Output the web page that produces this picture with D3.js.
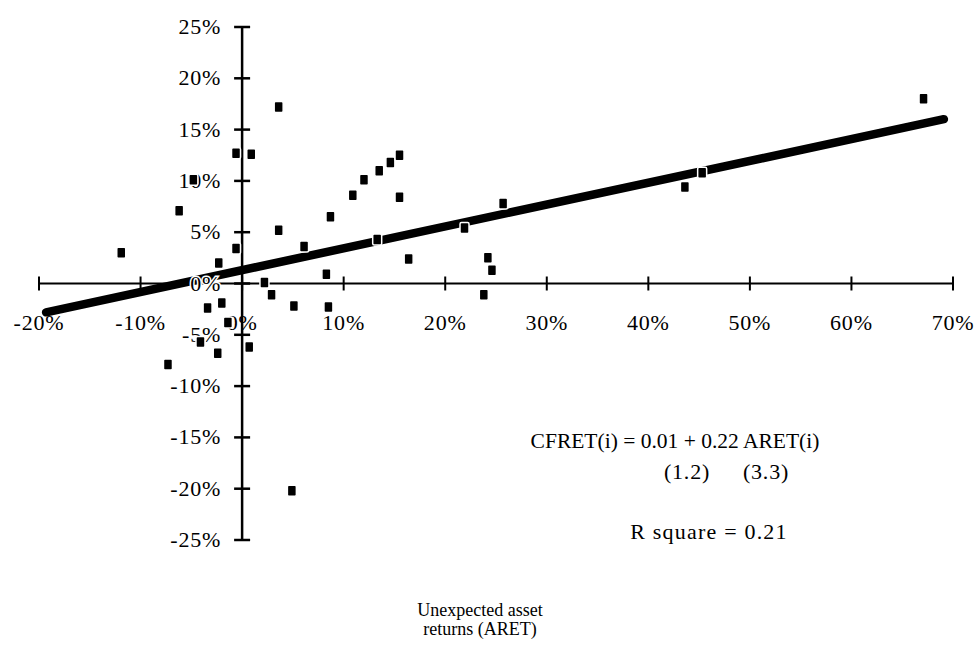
<!DOCTYPE html>
<html>
<head>
<meta charset="utf-8">
<script src="https://cdn.jsdelivr.net/npm/d3@7"></script>
<style>
  html, body { margin: 0; padding: 0; background: #fff; }
  svg { display: block; }
  text { font-family: "Liberation Serif", "DejaVu Serif", serif; fill: #000; }
</style>
</head>
<body>
<svg id="chart" width="978" height="650"></svg>
<script>
// Data (percent)
const aret = [-11.9, -6.2, -4.8, -0.6, 0.9, 3.6, 3.6, -0.6, -2.3, 2.2, 2.9, 5.1, 6.1, 8.3, 8.5, 8.7,
  10.9, 12.0, 13.5, 14.6, 15.5, 15.5, 13.3, 16.4, 21.9, 25.7, 24.2, 24.6, 23.8, 43.6, 45.3, 67.1, 4.9,
  -3.4, -2.0, -1.4, -4.1, -2.4, 0.7, -7.3];
const cfret = [3.0, 7.1, 10.1, 12.7, 12.6, 17.2, 5.2, 3.4, 2.0, 0.1, -1.1, -2.2, 3.6, 0.9, -2.3, 6.5,
  8.6, 10.1, 11.0, 11.8, 12.5, 8.4, 4.3, 2.4, 5.4, 7.8, 2.5, 1.3, -1.1, 9.4, 10.8, 18.0, -20.2,
  -2.4, -1.9, -3.8, -5.7, -6.8, -6.2, -7.9];
const xTicks = [-20, -10, 0, 10, 20, 30, 40, 50, 60, 70];
const yTicks = [25, 20, 15, 10, 5, 0, -5, -10, -15, -20, -25];
const fitIntercept = 1.3;
const fitSlope = 0.213;
const fitRange = [-19.3, 69.1];
const equationLines = ["CFRET(i) = 0.01 + 0.22 ARET(i)", "R square = 0.21"];
const tStats = ["(1.2)", "(3.3)"];
const xTitle = ["Unexpected asset", "returns (ARET)"];

const svg = d3.select("#chart");
const x = d3.scaleLinear().domain([-20, 70]).range([39, 953]);
const y = d3.scaleLinear().domain([-25, 25]).range([540, 27]);
const fmt = d => d + "%";

// X axis
const gx = svg.append("g");
gx.append("line").attr("x1", x(-20)).attr("x2", x(70)).attr("y1", y(0)).attr("y2", y(0))
  .attr("stroke", "#000").attr("stroke-width", 2);
gx.selectAll("line.t").data(xTicks).join("line").attr("class", "t")
  .attr("x1", d => x(d)).attr("x2", d => x(d)).attr("y1", y(0) - 7).attr("y2", y(0) + 7)
  .attr("stroke", "#000").attr("stroke-width", 2);

// Y axis
const gy = svg.append("g");
gy.append("line").attr("x1", x(0)).attr("x2", x(0)).attr("y1", y(25)).attr("y2", y(-25))
  .attr("stroke", "#000").attr("stroke-width", 2.5);
gy.selectAll("line.t").data(yTicks).join("line").attr("class", "t")
  .attr("x1", x(0) - 8).attr("x2", x(0) + 8).attr("y1", d => y(d)).attr("y2", d => y(d))
  .attr("stroke", "#000").attr("stroke-width", 2.5);

// Regression line
svg.append("line")
  .attr("x1", x(fitRange[0])).attr("y1", y(fitIntercept + fitSlope * fitRange[0]))
  .attr("x2", x(fitRange[1])).attr("y2", y(fitIntercept + fitSlope * fitRange[1]))
  .attr("stroke", "#000").attr("stroke-width", 8.5).attr("stroke-linecap", "round");

// Tick labels
svg.selectAll("text.xl").data(xTicks).join("text").attr("class", "xl")
  .attr("x", d => x(d)).attr("y", y(0) + 46).attr("text-anchor", "middle")
  .attr("font-size", 22).attr("letter-spacing", 0.8).text(fmt);
svg.selectAll("text.yl").data(yTicks).join("text").attr("class", "yl")
  .attr("x", x(0) - 21).attr("y", d => y(d) + 7).attr("text-anchor", "end")
  .attr("font-size", 22).attr("letter-spacing", 0.8)
  .attr("stroke", d => d === 0 ? "#fff" : "none").attr("stroke-width", 3)
  .attr("paint-order", "stroke").text(fmt);

// Points
svg.selectAll("rect.pt").data(aret.map((a, i) => [a, cfret[i]])).join("rect").attr("class", "pt")
  .attr("x", d => x(d[0]) - 4.5).attr("y", d => y(d[1]) - 5.5)
  .attr("width", 9).attr("height", 11).attr("rx", 1.5)
  .attr("fill", "#000").attr("stroke", "#fff").attr("stroke-width", 1.5);

// Annotation
svg.append("text").attr("x", 675).attr("y", 448).attr("text-anchor", "middle")
  .attr("font-size", 21.5).text(equationLines[0]);
svg.append("text").attr("x", 687).attr("y", 479).attr("text-anchor", "middle")
  .attr("font-size", 22).attr("letter-spacing", 0.8).text(tStats[0]);
svg.append("text").attr("x", 766).attr("y", 479).attr("text-anchor", "middle")
  .attr("font-size", 22).attr("letter-spacing", 0.8).text(tStats[1]);
svg.append("text").attr("x", 709).attr("y", 539).attr("text-anchor", "middle")
  .attr("font-size", 22).attr("letter-spacing", 1.2).text(equationLines[1]);

// Axis title
svg.selectAll("text.title").data(xTitle).join("text").attr("class", "title")
  .attr("x", 480).attr("y", (d, i) => 616 + i * 19).attr("text-anchor", "middle")
  .attr("font-size", 18).text(d => d);
</script>
</body>
</html>
